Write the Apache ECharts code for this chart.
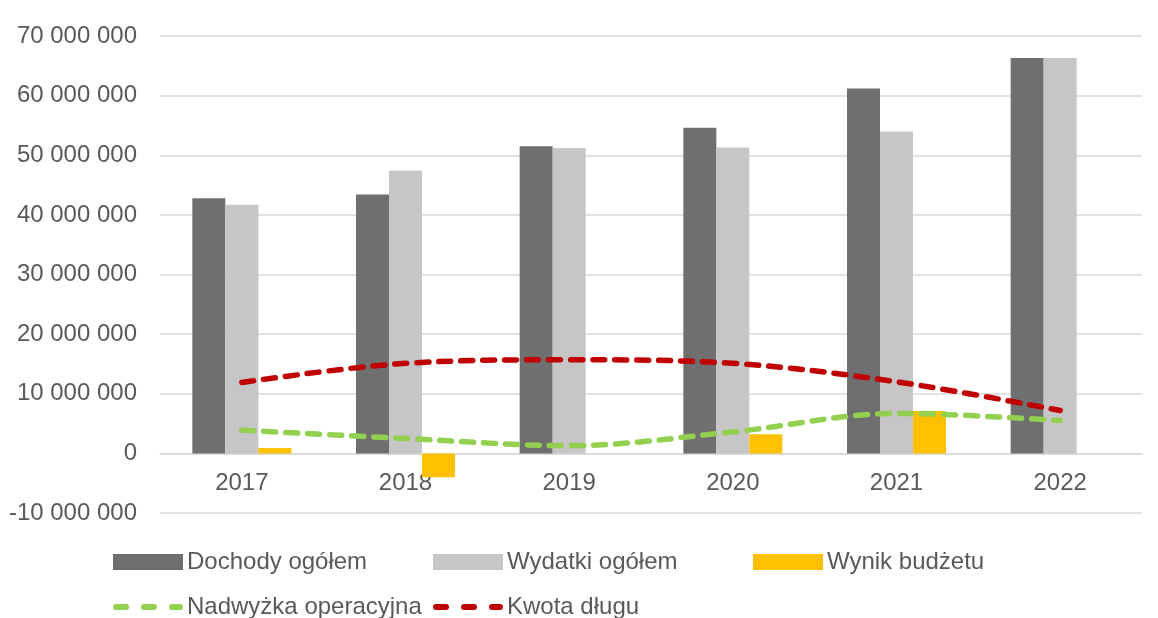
<!DOCTYPE html>
<html><head><meta charset="utf-8">
<script src="https://cdn.jsdelivr.net/npm/echarts@6/dist/echarts.min.js"></script>
<style>html,body{margin:0;padding:0;background:#fff}#c{width:1158px;height:618px}</style>
</head><body><div id="c"></div>
<script>
const categories = ['2017','2018','2019','2020','2021','2022'];
const dochody = [42800000, 43400000, 51500000, 54600000, 61200000, 66300000];
const wydatki = [41700000, 47400000, 51200000, 51300000, 54000000, 66300000];
const wynik = [900000, -4000000, 0, 3200000, 7100000, 0];
const nadwyzka = [3900000, 2500000, 1300000, 3600000, 6700000, 5500000];
const kwota = [11900000, 15100000, 15700000, 15100000, 12000000, 7200000];
const yTicks = { min: -10000000, max: 70000000, interval: 10000000 };

const font = 'Liberation Sans, Arial, sans-serif';
const chart = echarts.init(document.getElementById('c'));
function fmt(v){ return String(v).replace(/\B(?=(\d{3})+(?!\d))/g, ' '); }
const dashIcon = 'path://M3,0h10a3,3 0 0 1 0,6h-10a3,3 0 0 1 0,-6z M31,0h10a3,3 0 0 1 0,6h-10a3,3 0 0 1 0,-6z M59,0h8a3,3 0 0 1 0,6h-8a3,3 0 0 1 0,-6z';
const legendBase = { orient:'horizontal', itemGap: 0, padding: 0, textStyle:{fontFamily:font,fontSize:24,color:'#595959', padding:[0,0,0,-1]}, selectedMode:false };
const gridTop = 36, gridBottom = 105, H = 618;
const plotH = H - gridTop - gridBottom;
const zeroOffset = -plotH * (0 - yTicks.min) / (yTicks.max - yTicks.min);
chart.setOption({
  animation:false,
  textStyle:{fontFamily:font},
  grid:{left:160,right:16,top:gridTop,bottom:gridBottom},
  legend:[
    Object.assign({}, legendBase, {data:[{name:'Dochody ogółem',icon:'rect'}], left:113, top:550, itemWidth:70, itemHeight:16}),
    Object.assign({}, legendBase, {data:[{name:'Wydatki ogółem',icon:'rect'}], left:433, top:550, itemWidth:70, itemHeight:16}),
    Object.assign({}, legendBase, {data:[{name:'Wynik budżetu',icon:'rect'}], left:753, top:550, itemWidth:70, itemHeight:16}),
    Object.assign({}, legendBase, {data:[{name:'Nadwyżka operacyjna',icon:dashIcon}], left:113, top:595, itemWidth:70, itemHeight:6}),
    Object.assign({}, legendBase, {data:[{name:'Kwota długu',icon:dashIcon}], left:433, top:595, itemWidth:70, itemHeight:6})
  ],
  xAxis:{type:'category', data:categories, offset: zeroOffset,
    axisLine:{onZero:false, lineStyle:{color:'#d9d9d9', width:1.5}},
    axisTick:{show:false},
    axisLabel:{fontFamily:font,fontSize:24,color:'#595959',margin:18}},
  yAxis:{type:'value', min:yTicks.min, max:yTicks.max, interval:yTicks.interval,
    axisLine:{show:false}, axisTick:{show:false},
    splitLine:{lineStyle:{color:'#d9d9d9', width:1.5}},
    axisLabel:{fontFamily:font,fontSize:24,color:'#595959',margin:23, formatter:fmt}},
  series:[
    {name:'Dochody ogółem', type:'bar', data:dochody, barWidth:33, barGap:'0%', itemStyle:{color:'#6f6f6f'}},
    {name:'Wydatki ogółem', type:'bar', data:wydatki, barWidth:33, barGap:'0%', itemStyle:{color:'#c6c6c6'}},
    {name:'Wynik budżetu', type:'bar', data:wynik, barWidth:33, barGap:'0%', itemStyle:{color:'#ffc000'}},
    {name:'Nadwyżka operacyjna', type:'line', data:nadwyzka, smooth:0.35, symbol:'none', z:5,
      lineStyle:{color:'#92d050', width:5.5, type:[12,10], cap:'round'}, itemStyle:{color:'#92d050'}},
    {name:'Kwota długu', type:'line', data:kwota, smooth:0.35, symbol:'none', z:5,
      lineStyle:{color:'#c00000', width:5.5, type:[12,10], cap:'round'}, itemStyle:{color:'#c00000'}}
  ]
});
</script></body></html>
